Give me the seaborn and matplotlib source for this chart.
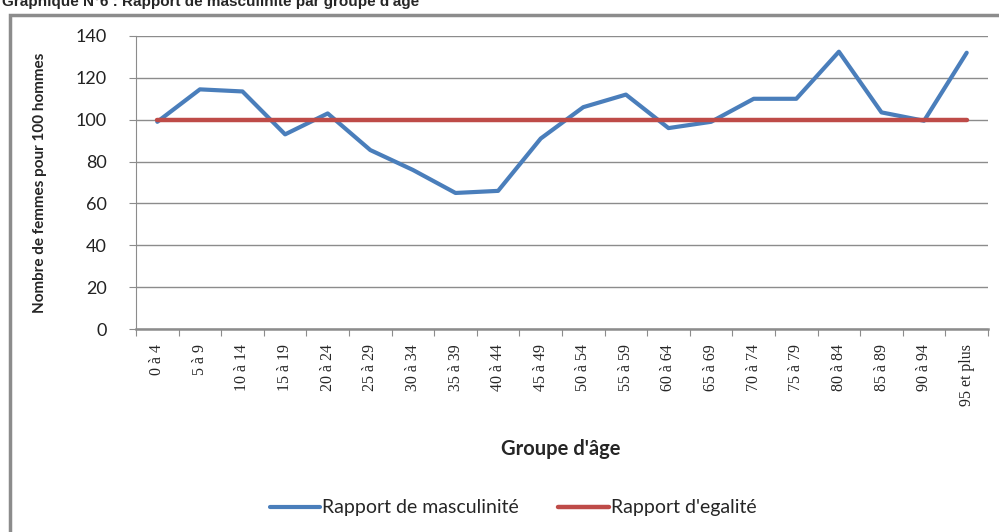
import numpy as np
import pandas as pd
import matplotlib
matplotlib.use('Agg')
import matplotlib.pyplot as plt
import seaborn as sns
from matplotlib.patches import Rectangle

# data
groupes = ['0 à 4', '5 à 9', '10 à 14', '15 à 19', '20 à 24', '25 à 29', '30 à 34',
           '35 à 39', '40 à 44', '45 à 49', '50 à 54', '55 à 59', '60 à 64', '65 à 69',
           '70 à 74', '75 à 79', '80 à 84', '85 à 89', '90 à 94', '95 et plus']
masculinite = [99, 114.5, 113.5, 93, 103, 85.5, 76, 65, 66, 91,
               106, 112, 96, 99, 110, 110, 132.5, 103.5, 99.5, 132]
egalite = [100] * len(groupes)
y_ticks = [0, 20, 40, 60, 80, 100, 120, 140]

pos = np.arange(len(groupes))
df = pd.DataFrame({'pos': pos, 'masc': masculinite, 'egal': egalite})

sns.set_style('white')
plt.rcParams['font.family'] = ['Lato', 'DejaVu Sans']

fig = plt.figure(figsize=(9.99, 5.32), dpi=100)
ax = fig.add_axes([136 / 999, 1 - 329 / 532, 852 / 999, 293 / 532])

blue = '#4A7EBB'
red = '#BE4B48'
sns.lineplot(data=df, x='pos', y='masc', ax=ax, color=blue, lw=3,
             label='Rapport de masculinité', zorder=3)
sns.lineplot(data=df, x='pos', y='egal', ax=ax, color=red, lw=3.2,
             label="Rapport d'egalité", zorder=4)

ax.set_xlim(-0.5, len(groupes) - 0.5)
ax.set_ylim(0, 140)
ax.set_yticks(y_ticks)
ax.set_yticklabels([str(v) for v in y_ticks], fontsize=13, color='#222222')
ax.yaxis.grid(True, color='#8c8c8c', lw=1)
ax.set_axisbelow(True)

# category boundaries as major ticks, labels on minor ticks
ax.set_xticks(np.arange(-0.5, len(groupes), 1))
ax.set_xticklabels([])
ax.set_xticks(pos, minor=True)
ax.set_xticklabels(groupes, minor=True, rotation=90, fontsize=11.5,
                   family='Liberation Serif', va='top')
ax.tick_params(axis='x', which='major', length=5, color='#8c8c8c', direction='out', bottom=True)
ax.tick_params(axis='x', which='minor', length=0, pad=11)
ax.tick_params(axis='y', length=5, color='#8c8c8c', direction='out', left=True, pad=16)

for s in ['top', 'right']:
    ax.spines[s].set_visible(False)
ax.spines['left'].set_color('#8c8c8c')
ax.spines['bottom'].set_color('#8c8c8c')
ax.spines['bottom'].set_linewidth(1.8)

ax.set_xlabel("Groupe d'âge", fontsize=14.5, fontweight='bold', labelpad=0)
ax.xaxis.set_label_coords((561 - 136) / 852, -(439 - 329) / 293)
ax.set_ylabel('Nombre de femmes pour 100 hommes', fontsize=11, fontweight='bold')
ax.yaxis.set_label_coords(-(136 - 47) / 852, 0.5)

ax.get_legend().remove()
handles, labels = ax.get_legend_handles_labels()
fig.legend(handles, labels, loc='center', bbox_to_anchor=(513 / 999, 1 - 508 / 532),
           ncol=2, frameon=False, fontsize=14, handlelength=2.6, handletextpad=0.1,
           columnspacing=2.0)

# outer frame and title (cropped at the top edge as in the reference)
fig.patches.append(Rectangle((10 / 999, -0.05), 1.1, 1 - 15 / 532 + 0.05,
                             transform=fig.transFigure, fill=False,
                             edgecolor='#8c8c8c', lw=2.5))
fig.text(2 / 999, 1 - 6 / 532, "Graphique N°6 : Rapport de masculinité par groupe d'âge",
         fontsize=11, fontweight='bold', family='Liberation Sans', va='baseline', ha='left')

fig.savefig('out.png', dpi=100)
